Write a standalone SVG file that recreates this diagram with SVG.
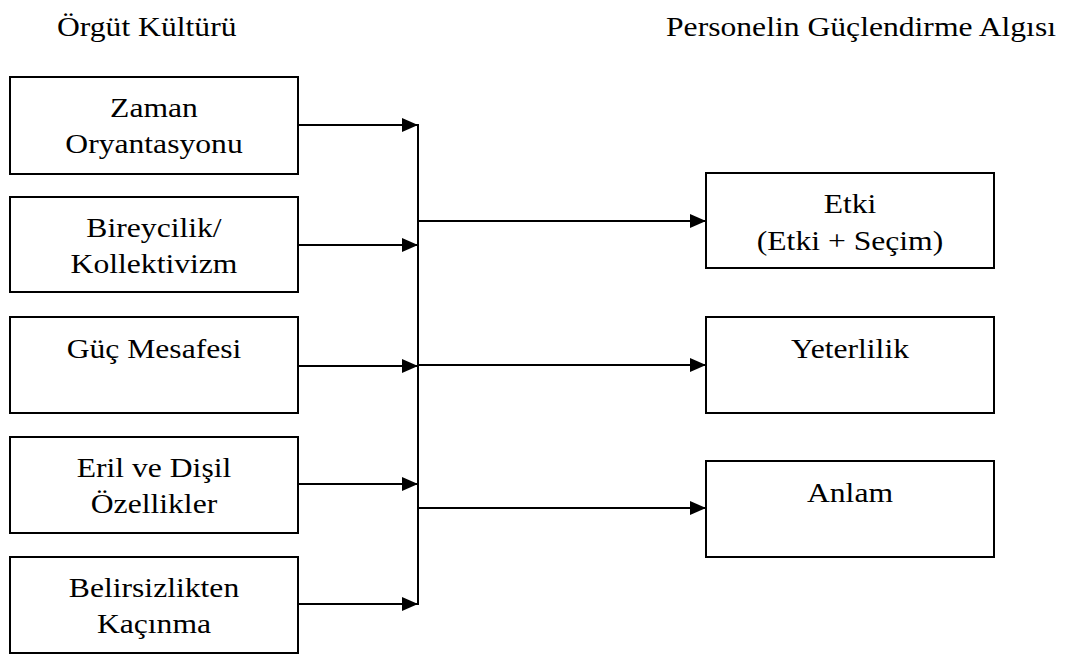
<svg xmlns="http://www.w3.org/2000/svg" width="1066" height="655" viewBox="0 0 1066 655">
<style>
  .box { fill: #fff; stroke: #000; stroke-width: 2; }
  .t { font-family: 'Liberation Serif', 'Times New Roman', 'DejaVu Serif', serif; font-size: 28px; fill: #000; text-anchor: middle; }
  .title { font-family: 'Liberation Serif', 'Times New Roman', 'DejaVu Serif', serif; font-size: 28px; fill: #000; }
  .ln { stroke: #000; stroke-width: 2; fill: none; }
</style>
<defs>
  <marker id="arr" markerUnits="userSpaceOnUse" markerWidth="16" markerHeight="14" refX="16" refY="7" orient="auto">
    <path d="M0,0 L16,7 L0,14 z" fill="#000"/>
  </marker>
</defs>
<rect width="1066" height="655" fill="#fff"/>
<text class="title" transform="translate(57,36) scale(1.13,1)">Örgüt Kültürü</text>
<text class="title" transform="translate(1056,36) scale(1.13,1)" text-anchor="end">Personelin Güçlendirme Algısı</text>

<g id="n-zaman"><rect class="box" x="10" y="77" width="288" height="97"/><text class="t" transform="translate(154,117) scale(1.13,1)">Zaman</text><text class="t" transform="translate(154,153) scale(1.13,1)">Oryantasyonu</text></g>
<g id="n-bireycilik"><rect class="box" x="10" y="197" width="288" height="95"/><text class="t" transform="translate(154,237) scale(1.13,1)">Bireycilik/</text><text class="t" transform="translate(154,273) scale(1.13,1)">Kollektivizm</text></g>
<g id="n-guc"><rect class="box" x="10" y="317" width="288" height="96"/><text class="t" transform="translate(154,358) scale(1.13,1)">Güç Mesafesi</text></g>
<g id="n-eril"><rect class="box" x="10" y="437" width="288" height="96"/><text class="t" transform="translate(154,477) scale(1.13,1)">Eril ve Dişil</text><text class="t" transform="translate(154,513) scale(1.13,1)">Özellikler</text></g>
<g id="n-belirsizlik"><rect class="box" x="10" y="557" width="288" height="96"/><text class="t" transform="translate(154,597) scale(1.13,1)">Belirsizlikten</text><text class="t" transform="translate(154,633) scale(1.13,1)">Kaçınma</text></g>

<g id="n-etki"><rect class="box" x="706" y="173" width="288" height="95"/><text class="t" transform="translate(850,213) scale(1.13,1)">Etki</text><text class="t" transform="translate(850,250) scale(1.13,1)">(Etki + Seçim)</text></g>
<g id="n-yeterlilik"><rect class="box" x="706" y="317" width="288" height="96"/><text class="t" transform="translate(850,358) scale(1.13,1)">Yeterlilik</text></g>
<g id="n-anlam"><rect class="box" x="706" y="461" width="288" height="96"/><text class="t" transform="translate(850,502) scale(1.13,1)">Anlam</text></g>

<g id="connectors">
  <line class="ln" x1="418" y1="124" x2="418" y2="605"/>
  <line class="ln" x1="298" y1="125" x2="418" y2="125" marker-end="url(#arr)"/>
  <line class="ln" x1="298" y1="245" x2="418" y2="245" marker-end="url(#arr)"/>
  <line class="ln" x1="298" y1="366" x2="418" y2="366" marker-end="url(#arr)"/>
  <line class="ln" x1="298" y1="484" x2="418" y2="484" marker-end="url(#arr)"/>
  <line class="ln" x1="298" y1="604" x2="418" y2="604" marker-end="url(#arr)"/>
  <line class="ln" x1="418" y1="221" x2="706" y2="221" marker-end="url(#arr)"/>
  <line class="ln" x1="418" y1="365" x2="706" y2="365" marker-end="url(#arr)"/>
  <line class="ln" x1="418" y1="508" x2="706" y2="508" marker-end="url(#arr)"/>
</g>
</svg>
